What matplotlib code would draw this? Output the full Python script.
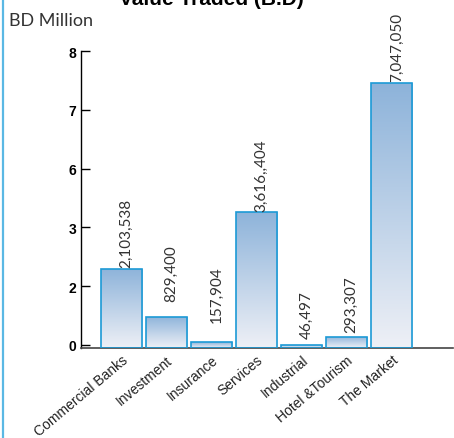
import matplotlib.pyplot as plt
import numpy as np
from matplotlib.colors import LinearSegmentedColormap
from matplotlib.lines import Line2D

# data (values in the y-axis label units)
CATEGORIES = ["Commercial Banks", "Investment", "Insurance", "Services",
              "Industrial", "Hotel &Tourism", "The Market"]
BAR_VALUES = [2.29, 0.94, 0.08, 3.78, 0.0, 0.26, 7.45]
VALUE_LABELS = ["2,103,538", "829,400", "157,904", "3,616,,404",
                "46,497", "293,307", "7,047,050"]
Y_TICK_LABELS = [0, 2, 3, 6, 7, 8]

# label gap above each bar (points), irregular in the source
LABEL_GAP = [1.5, 11.5, 14.5, 1, 5, 3.5, 2]

EDGE = "#1c9ad6"
GRAD = LinearSegmentedColormap.from_list("grad", ["#eef0f6", "#8db3da"])

plt.rcParams["font.family"] = ["Liberation Sans", "DejaVu Sans"]

# the y axis is evenly spaced per tick even though the labels are not
tick_pos = np.arange(len(Y_TICK_LABELS))
heights = np.interp(BAR_VALUES, Y_TICK_LABELS, tick_pos)
base = -0.06

fig = plt.figure(figsize=(4.54, 4.39), dpi=100)
ax = fig.add_axes([0.1784, 0.2043, 0.8196, 0.6772])

x = np.arange(len(CATEGORIES))
width = 0.91
bars = ax.bar(x, heights - base, bottom=base, width=width,
              facecolor="none", edgecolor=EDGE, linewidth=1.2, zorder=3)

grad = np.linspace(0, 1, 256).reshape(-1, 1)
for b, h in zip(bars, heights):
    x0 = b.get_x()
    im = ax.imshow(grad, cmap=GRAD, aspect="auto", origin="lower",
                   extent=[x0, x0 + width, base, max(h, base + 0.01)],
                   zorder=2, interpolation="bilinear")
    im.set_clip_path(b)

for xi, h, lab, gap in zip(x, heights, VALUE_LABELS, LABEL_GAP):
    ax.annotate(lab, (xi, h), xytext=(3.5, gap), textcoords="offset points",
                rotation=90, ha="center", va="bottom", fontsize=11,
                family=["Lato", "DejaVu Sans"], color="#333333",
                annotation_clip=False)

ax.set_xlim(-0.891, 7.357)
ax.set_ylim(base, 5)
ax.set_yticks(tick_pos)
ax.set_yticklabels([str(v) for v in Y_TICK_LABELS], fontweight="bold", fontsize=10)
ax.tick_params(axis="y", direction="in", length=6.5, width=1, pad=3.5)
ax.set_xticks(x)
ax.set_xticklabels(CATEGORIES, rotation=40, ha="right",
                   rotation_mode="anchor", fontsize=10, color="#222222")
ax.tick_params(axis="x", length=0, pad=3)
ax.spines["top"].set_visible(False)
ax.spines["right"].set_visible(False)
ax.spines["bottom"].set_color("#444444")
ax.spines["bottom"].set_linewidth(1.2)
ax.spines["left"].set_linewidth(1.0)

# title sits mostly above the top edge, as in the source
fig.text(211.5 / 454, 1 - 5 / 439, "Value Traded (B.D)", ha="center",
         va="baseline", fontsize=15, fontweight="bold")
fig.text(9 / 454, 1 - 25.7 / 439, "BD Million", ha="left", va="baseline",
         fontsize=13, family=["Lato", "DejaVu Sans"], color="#333333")

# light blue rule along the left edge of the figure
fig.add_artist(Line2D([2.5 / 454, 2.5 / 454], [0, 1], color="#5ab8e4",
                      linewidth=1.6, transform=fig.transFigure))

fig.savefig("out.png", dpi=100)
